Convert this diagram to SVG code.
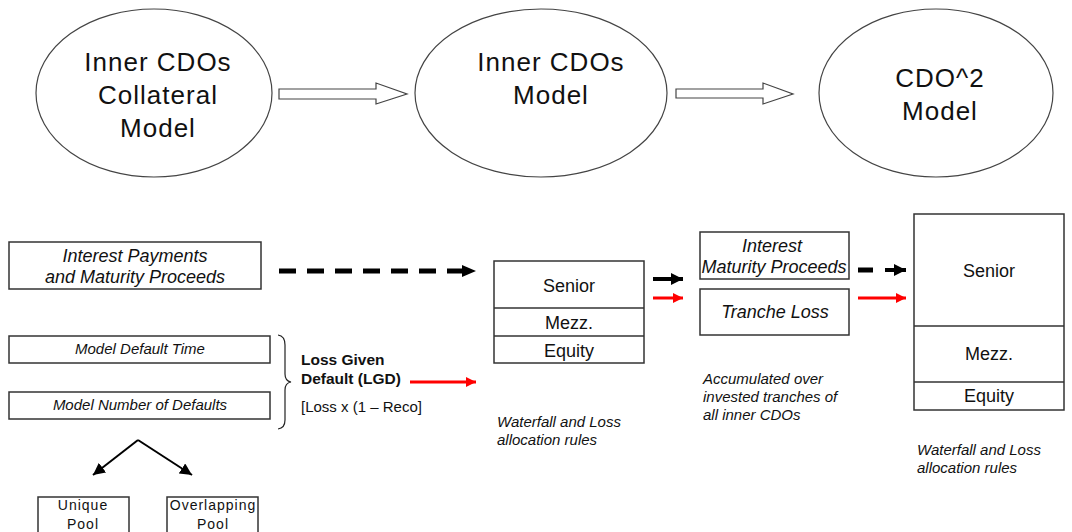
<svg xmlns="http://www.w3.org/2000/svg" width="1072" height="532" viewBox="0 0 1072 532">
<defs>
<style>
text{font-family:"Liberation Sans",Arial,sans-serif;fill:#111}
.big{font-size:26px;text-anchor:middle;letter-spacing:1px}
.box{fill:#fff;stroke:#333;stroke-width:1.5}
.ell{fill:#fff;stroke:#444;stroke-width:1.2}
.it18{font-size:18px;font-style:italic;text-anchor:middle}
.t18{font-size:18px;text-anchor:middle}
.it15{font-size:15px;font-style:italic}
.it15c{font-size:15px;font-style:italic;text-anchor:middle}
.pool{font-size:14px;text-anchor:middle;letter-spacing:1px}
.block{fill:#fff;stroke:#444;stroke-width:1.2}
</style>
<marker id="hb" viewBox="0 0 10 10" refX="10" refY="5" markerWidth="3" markerHeight="3" orient="auto" markerUnits="strokeWidth"><path d="M0,0L10,5L0,10z" fill="#000"/></marker>
<marker id="hr" viewBox="0 0 10 10" refX="10" refY="5" markerWidth="3.4" markerHeight="3.4" orient="auto" markerUnits="strokeWidth"><path d="M0,0L10,5L0,10z" fill="#f00"/></marker>
<marker id="hs" viewBox="0 0 10 10" refX="10" refY="5" markerWidth="6" markerHeight="6" orient="auto" markerUnits="strokeWidth"><path d="M0,0L10,5L0,10z" fill="#000"/></marker>
</defs>
<rect width="1072" height="532" fill="#fff"/>

<g id="ellipse1"><ellipse class="ell" cx="154" cy="93" rx="118" ry="84"/>
<text class="big" x="158" y="71">Inner CDOs</text><text class="big" x="158" y="104">Collateral</text><text class="big" x="158" y="137">Model</text></g>
<g id="ellipse2"><ellipse class="ell" cx="541" cy="93" rx="126" ry="84"/>
<text class="big" x="551" y="71">Inner CDOs</text><text class="big" x="551" y="104">Model</text></g>
<g id="ellipse3"><ellipse class="ell" cx="936" cy="93" rx="117" ry="84"/>
<text class="big" x="940" y="87">CDO^2</text><text class="big" x="940" y="120">Model</text></g>

<g id="interest-payments"><rect class="box" x="9" y="242" width="252" height="47"/>
<text class="it18" x="135" y="262">Interest Payments</text><text class="it18" x="135" y="283">and Maturity Proceeds</text></g>
<g id="default-time"><rect class="box" x="9" y="336" width="261" height="27"/>
<text class="it15c" x="140" y="354">Model Default Time</text></g>
<g id="num-defaults"><rect class="box" x="9" y="392" width="261" height="27"/>
<text class="it15c" x="140" y="410">Model Number of Defaults</text></g>
<g id="lgd">
<path d="M278,335 Q285,336 285,345 L285,374 Q285,381 291,382 Q285,383 285,390 L285,420 Q285,428 278,429" fill="none" stroke="#222" stroke-width="1.2"/>
<text x="301" y="365" style="font-size:15.5px;font-weight:bold">Loss Given</text>
<text x="301" y="384" style="font-size:15.5px;font-weight:bold">Default (LGD)</text>
<text x="301" y="412" style="font-size:15px">[Loss x (1 – Reco]</text></g>

<g id="inner-tranches"><rect class="box" x="494" y="261" width="150" height="102"/>
<line x1="494" y1="308" x2="644" y2="308" stroke="#333" stroke-width="1.5"/>
<line x1="494" y1="336" x2="644" y2="336" stroke="#333" stroke-width="1.5"/>
<text class="t18" x="569" y="292">Senior</text><text class="t18" x="569" y="329">Mezz.</text><text class="t18" x="569" y="357">Equity</text></g>
<g id="waterfall1"><text class="it15" x="497" y="427">Waterfall and Loss</text><text class="it15" x="497" y="445">allocation rules</text></g>

<g id="interest-maturity"><rect class="box" x="700" y="232" width="149" height="47"/>
<text class="it18" x="772" y="252">Interest</text><text class="it18" x="774" y="273">Maturity Proceeds</text></g>
<g id="tranche-loss"><rect class="box" x="700" y="289" width="149" height="46"/>
<text class="it18" x="775" y="318">Tranche Loss</text></g>
<g id="accumulated"><text class="it15" x="703" y="384">Accumulated over</text><text class="it15" x="703" y="402">invested tranches of</text><text class="it15" x="703" y="420">all inner CDOs</text></g>

<g id="cdo2-tranches"><rect class="box" x="914" y="214" width="150" height="196"/>
<line x1="914" y1="326" x2="1064" y2="326" stroke="#333" stroke-width="1.5"/>
<line x1="914" y1="382" x2="1064" y2="382" stroke="#333" stroke-width="1.5"/>
<text class="t18" x="989" y="277">Senior</text><text class="t18" x="989" y="360">Mezz.</text><text class="t18" x="989" y="402">Equity</text></g>
<g id="waterfall2"><text class="it15" x="917" y="455">Waterfall and Loss</text><text class="it15" x="917" y="473">allocation rules</text></g>

<g id="unique-pool"><rect class="box" x="38" y="497" width="91" height="40"/>
<text class="pool" x="83" y="510">Unique</text><text class="pool" x="83" y="529">Pool</text></g>
<g id="overlapping-pool"><rect class="box" x="167" y="497" width="91" height="40"/>
<text class="pool" x="213" y="510">Overlapping</text><text class="pool" x="213" y="529">Pool</text></g>

<g id="connectors">
<polygon class="block" points="279,89 376,89 376,83 407,94 376,104 376,99 279,99"/>
<polygon class="block" points="676,89 763,89 763,83 793,94 763,104 763,98 676,98"/>
<line x1="279" y1="271" x2="462" y2="271" stroke="#000" stroke-width="5" stroke-dasharray="17,11"/>
<path d="M462,265 L476,271 L462,277z" fill="#000"/>
<line x1="410" y1="382" x2="476" y2="382" stroke="#f00" stroke-width="3" marker-end="url(#hr)"/>
<line x1="653" y1="279" x2="683" y2="279" stroke="#000" stroke-width="4" marker-end="url(#hb)"/>
<line x1="653" y1="298" x2="683" y2="298" stroke="#f00" stroke-width="3" marker-end="url(#hr)"/>
<line x1="858" y1="270" x2="873" y2="270" stroke="#000" stroke-width="5"/>
<line x1="885" y1="270" x2="906" y2="270" stroke="#000" stroke-width="4" marker-end="url(#hb)"/>
<line x1="858" y1="298" x2="906" y2="298" stroke="#f00" stroke-width="3" marker-end="url(#hr)"/>
<line x1="138" y1="440" x2="93" y2="475" stroke="#000" stroke-width="2" marker-end="url(#hs)"/>
<line x1="138" y1="440" x2="192" y2="475" stroke="#000" stroke-width="2" marker-end="url(#hs)"/>
</g>
</svg>
